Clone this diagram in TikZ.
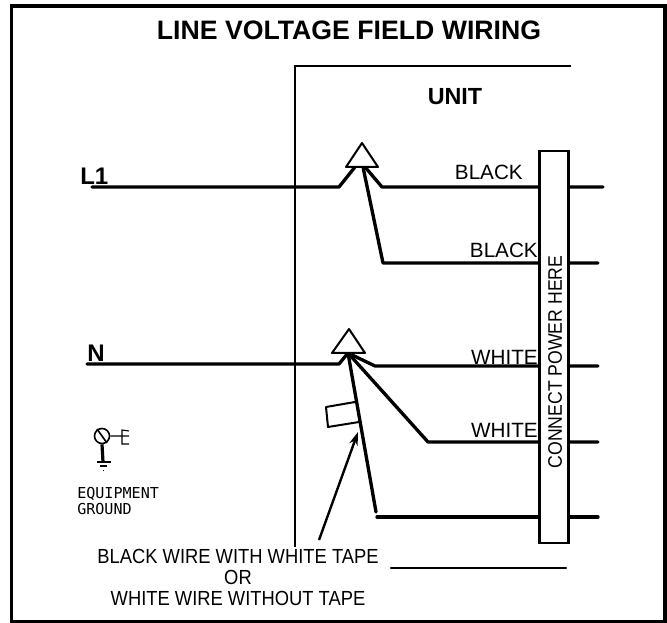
\documentclass[tikz,border=0pt]{standalone}
\usepackage{fontspec}
\setmainfont{Liberation Sans}
\newfontfamily\plotfont{DejaVu Sans Mono}
\newfontfamily\narrowfont[FakeStretch=.9]{Liberation Sans}
\usetikzlibrary{positioning, calc, arrows.meta}
\tikzset{
  wire/.style={line width=2.5pt, line cap=round, line join=round},
  outline/.style={line width=1.5pt},
  part/.style={line width=1.5pt, line join=round},
  wirelabel/.style={font=\fontsize{15.5}{18}\selectfont, inner sep=0pt},
  notelabel/.style={font=\narrowfont\fontsize{15.3}{18}\selectfont, inner sep=0pt},
  plotlabel/.style={font=\plotfont\fontsize{11.3}{12}\selectfont, inner sep=0pt, anchor=west},
  heavylabel/.style={font=\bfseries\fontsize{18}{20}\selectfont, inner sep=0pt},
}
\begin{document}
\begin{tikzpicture}[x=.75pt, y=-.75pt, >=stealth]
\useasboundingbox (0,0) rectangle (667,623);
\draw[line width=2.6pt] (11.5,6) rectangle (665,621.5);
\node[font=\bfseries\fontsize{20}{22}\selectfont, inner sep=0pt] (title) at (349,30) {LINE VOLTAGE FIELD WIRING};
\node[font=\bfseries\fontsize{17.5}{20}\selectfont, inner sep=0pt] (unit) at (455,97) {UNIT};

% unit outline
\coordinate (unitA) at (571,66);
\coordinate (unitB) at (295,66);
\coordinate (unitC) at (295,547);
\draw[outline] (unitA)--(unitB)--(unitC);
\coordinate (lineA) at (391,568);
\coordinate (lineB) at (566,568);
\draw[wire, line width=1.7pt] (lineA)--(lineB);

% L1 side
\coordinate (Lstart) at (92,187);
\coordinate (Lbend) at (339,187);
\coordinate (Ltop) at (355,167);
\coordinate (LtopR) at (365,167);
\coordinate (LtopS) at (363,167);
\coordinate (LbendA) at (382,187);
\coordinate (LbendB) at (383,263);
\coordinate (LendA) at (603,187);
\coordinate (LendB) at (598,263);
\draw[wire] (Lstart)--(Lbend)--(Ltop);
\draw[wire] (LtopR)--(LbendA)--(LendA);
\draw[wire] (LtopS)--(LbendB)--(LendB);
\coordinate (LtriA) at (362,143);
\coordinate (LtriB) at (346,167);
\coordinate (LtriC) at (378,167);
\draw[part, fill=white] (LtriA)--(LtriB)--(LtriC)--cycle;

% N side
\coordinate (Nstart) at (87,364);
\coordinate (Nbend) at (339,364);
\coordinate (Ntop) at (348,353);
\coordinate (NbendA) at (375,366);
\coordinate (NbendB) at (428,442);
\coordinate (NtapeEnd) at (376,512);
\coordinate (NlastA) at (377,517);
\coordinate (NendA) at (598,366);
\coordinate (NendB) at (598,442);
\coordinate (NendC) at (598,517);
\draw[wire] (Nstart)--(Nbend)--(Ntop);
\draw[wire] (Ntop)--(NbendA)--(NendA);
\draw[wire] (Ntop)--(NbendB)--(NendB);
\draw[wire] (Ntop)--(NtapeEnd);
\draw[wire] (NlastA)--(NendC);
\coordinate (NtriA) at (349,329);
\coordinate (NtriB) at (332,353);
\coordinate (NtriC) at (365,353);
\draw[part, fill=white] (NtriA)--(NtriB)--(NtriC)--cycle;

% tape on the wire
\coordinate (tapeA) at (355,402);
\coordinate (tapeB) at (326,407);
\coordinate (tapeC) at (328,427);
\coordinate (tapeD) at (359,422);
\draw[part] (tapeA)--(tapeB)--(tapeC)--(tapeD);

% terminal strip
\node[draw, line width=1.9pt, fill=white, outer sep=0pt, minimum width=29*.75pt, minimum height=392*.75pt, inner sep=0pt, anchor=north west] (strip) at (539.5,151) {};
\node[rotate=90, inner sep=0pt, font=\narrowfont\fontsize{14.7}{16}\selectfont] (connect) at (555,362) {CONNECT POWER HERE};

% labels
\node[wirelabel, anchor=east] (blackA) at (523,172) {BLACK};
\node[wirelabel, anchor=east] (blackB) at (538,250) {BLACK};
\node[wirelabel, anchor=east] (whiteA) at (538,357) {WHITE};
\node[wirelabel, anchor=east] (whiteB) at (538,430) {WHITE};
\node[heavylabel, anchor=base west] (Lone) at (80,185) {L1};
\node[heavylabel, anchor=base west] (N) at (87,361) {N};

% note and arrow
\node[notelabel] (noteA) at (238,556) {BLACK WIRE WITH WHITE TAPE};
\node[notelabel] (noteB) at (238,577) {OR};
\node[notelabel] (noteC) at (238,598) {WHITE WIRE WITHOUT TAPE};
\coordinate (arrowA) at (319,540);
\coordinate (arrowB) at (358,432);
\draw[-{Stealth[length=10pt,width=6.5pt]}, line width=1.8pt] (arrowA)--(arrowB);

% ground symbol
\node[draw, circle, line width=1.2pt, minimum size=15*.75pt, inner sep=0pt] (screw) at (102,436) {};
\coordinate (slashA) at (97,429);
\coordinate (slashB) at (107,443);
\draw[line width=1.2pt] (slashA)--(slashB);
\coordinate (stemB) at (103,462);
\draw[line width=2.4pt] (screw.south)--(stemB);
\coordinate (gndA) at (97,462);
\coordinate (gndB) at (111,462);
\coordinate (gndC) at (100,466);
\coordinate (gndD) at (107,466);
\coordinate (gndE) at (103,470.5);
\coordinate (gndF) at (104,470.5);
\draw[line width=.8pt] (gndA)--(gndB) (gndC)--(gndD) (gndE)--(gndF);
\coordinate (lugA) at (122,436);
\coordinate (lugB) at (122,430);
\coordinate (lugC) at (122,444);
\coordinate (lugD) at (129,431);
\coordinate (lugE) at (129,436);
\coordinate (lugF) at (129,444);
\draw[line width=.8pt] (screw.east)--(lugA)--(lugE) (lugD)--(lugB)--(lugC)--(lugF);
\node[plotlabel] (equip) at (77,494) {EQUIPMENT};
\node[plotlabel] (ground) at (77,509) {GROUND};
\end{tikzpicture}
\end{document}
